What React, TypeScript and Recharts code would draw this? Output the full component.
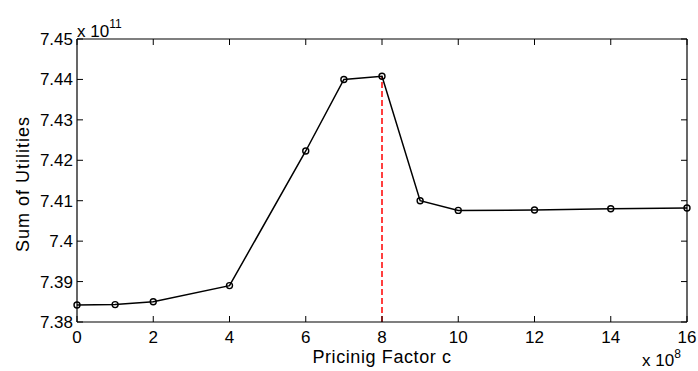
import { Line, LineChart, XAxis, YAxis } from 'recharts'

// x in units of 1e8, y in units of 1e11
const pricingFactor = [0, 1, 2, 4, 6, 7, 8, 9, 10, 12, 14, 16]
const sumOfUtilities = [7.3842, 7.3843, 7.3850, 7.3890, 7.4223, 7.4400, 7.4408, 7.4100, 7.4076, 7.4077, 7.4080, 7.4082]
const peakX = 8
const peakY = 7.4408

const xTicks = [0, 2, 4, 6, 8, 10, 12, 14, 16]
const yTicks = [7.38, 7.39, 7.4, 7.41, 7.42, 7.43, 7.44, 7.45]

const series = pricingFactor.map((x, i) => ({ x, y: sumOfUtilities[i] }))
const peakLine = [
  { x: peakX, y: 7.38 },
  { x: peakX, y: peakY },
]

const font = '"Liberation Sans", Arial, Helvetica, sans-serif'
const fmtY = (v: number) => String(Number(v.toFixed(2)))
const axisStroke = { stroke: '#000', strokeWidth: 1.2 }
const TICK = 6

// MATLAB style: tick marks point into the plot
function BottomTick({ x, y, payload }: any) {
  return (
    <g>
      <line x1={x} x2={x} y1={y} y2={y - TICK} stroke="#000" strokeWidth={1} />
      <text x={x} y={y + 9} dy="0.71em" textAnchor="middle" fontSize={17} fontFamily={font} fill="#000">
        {payload.value}
      </text>
    </g>
  )
}

function LeftTick({ x, y, payload }: any) {
  return (
    <g>
      <line x1={x} x2={x + TICK} y1={y} y2={y} stroke="#000" strokeWidth={1} />
      <text x={x - 4} y={y} dy="0.355em" textAnchor="end" fontSize={17} fontFamily={font} fill="#000">
        {fmtY(payload.value)}
      </text>
    </g>
  )
}

function TopTick({ x, y }: any) {
  return <line x1={x} x2={x} y1={y} y2={y + TICK} stroke="#000" strokeWidth={1} />
}

function RightTick({ x, y }: any) {
  return <line x1={x} x2={x - TICK} y1={y} y2={y} stroke="#000" strokeWidth={1} />
}

export default function App() {
  return (
    <div style={{ position: 'absolute', left: 0, top: 0, width: 698, height: 371, background: '#fff', fontFamily: font }}>
      <LineChart width={698} height={371} margin={{ top: 29, right: 0, left: 0, bottom: 0 }}>
        <XAxis
          xAxisId="bottom"
          dataKey="x"
          type="number"
          domain={[0, 16]}
          ticks={xTicks}
          height={49}
          tickSize={0}
          tickMargin={0}
          tick={<BottomTick />}
          tickLine={false}
          axisLine={axisStroke}
        />
        <XAxis
          xAxisId="top"
          orientation="top"
          dataKey="x"
          type="number"
          domain={[0, 16]}
          ticks={xTicks}
          height={10}
          tickSize={0}
          tickMargin={0}
          tick={<TopTick />}
          tickLine={false}
          axisLine={axisStroke}
        />
        <YAxis
          yAxisId="left"
          type="number"
          domain={[7.38, 7.45]}
          ticks={yTicks}
          width={77}
          tickSize={0}
          tickMargin={0}
          tick={<LeftTick />}
          tickLine={false}
          axisLine={axisStroke}
        />
        <YAxis
          yAxisId="right"
          orientation="right"
          type="number"
          domain={[7.38, 7.45]}
          ticks={yTicks}
          width={11}
          tickSize={0}
          tickMargin={0}
          tick={<RightTick />}
          tickLine={false}
          axisLine={axisStroke}
        />
        <Line
          xAxisId="top"
          yAxisId="right"
          data={peakLine}
          dataKey="y"
          stroke="#ff0000"
          strokeWidth={1.5}
          strokeDasharray="6 3"
          dot={false}
          activeDot={false}
          isAnimationActive={false}
        />
        <Line
          xAxisId="bottom"
          yAxisId="left"
          data={series}
          dataKey="y"
          stroke="#000"
          strokeWidth={1.5}
          dot={{ r: 3, stroke: '#000', strokeWidth: 1.4, fill: 'none' }}
          activeDot={false}
          isAnimationActive={false}
        />
      </LineChart>
      <div style={{ position: 'absolute', left: 77, top: 23, fontSize: 17, lineHeight: '17px', whiteSpace: 'nowrap' }}>
        x 10<span style={{ fontSize: 12, position: 'relative', top: -9 }}>11</span>
      </div>
      <div style={{ position: 'absolute', left: 642, top: 353, fontSize: 17, lineHeight: '16px', whiteSpace: 'nowrap' }}>
        x 10<span style={{ fontSize: 12, position: 'relative', top: -8 }}>8</span>
      </div>
      <div
        style={{
          position: 'absolute',
          left: 0,
          width: 764,
          top: 348,
          textAlign: 'center',
          fontSize: 18,
          lineHeight: '18px',
          letterSpacing: 0.6,
          whiteSpace: 'nowrap',
        }}
      >
        Pricinig Factor c
      </div>
      <div
        style={{
          position: 'absolute',
          left: 23,
          top: 184,
          transform: 'translate(-50%, -50%) rotate(-90deg)',
          fontSize: 18,
          lineHeight: '18px',
          letterSpacing: 1,
          whiteSpace: 'nowrap',
        }}
      >
        Sum of Utilities
      </div>
    </div>
  )
}
